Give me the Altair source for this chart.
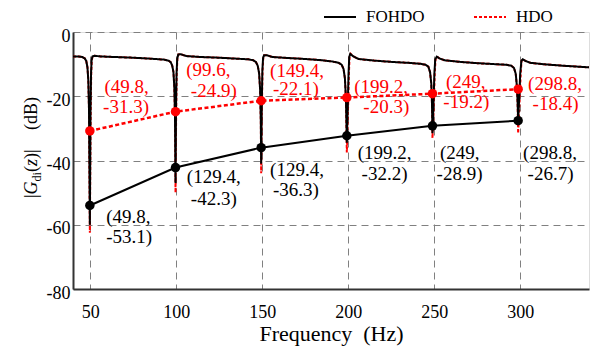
import altair as alt
import pandas as pd

FONT = "'Liberation Serif', 'Times New Roman', serif"

# ---------------- data ----------------
fohdo_f = [40, 43, 45.5, 46.8, 47.7, 48.4, 48.9, 49.3, 49.8, 50.2, 50.5, 50.8, 51.3, 52.5, 56,
           65, 75, 85, 93, 95.5, 96.8, 97.7, 98.4, 98.9, 99.3, 99.6, 99.9, 100.2, 100.6, 101.2, 102.5, 106,
           115, 125, 135, 142, 144.8, 146.3, 147.4, 148.2, 148.8, 149.2, 149.4, 149.7, 150.1, 150.5, 151.1, 152.5, 156,
           165, 175, 185, 191, 194.5, 196.2, 197.3, 198.1, 198.7, 199.2, 199.7, 200.2, 200.6, 201.2, 203, 206,
           215, 225, 235, 242, 245, 246.6, 247.6, 248.3, 248.7, 249.0, 249.5, 250.1, 250.6, 251.5, 253, 256,
           265, 275, 285, 292, 294.8, 296.4, 297.4, 298.1, 298.5, 298.8, 299.3, 300.0, 300.7, 301.5, 303, 306,
           315, 325, 340]
fohdo_db = [-7.6, -7.6, -7.8, -8.2, -9.0, -11.0, -15.0, -24.0, -60.0, -24.0, -13.0, -8.8, -7.6, -7.4, -7.6,
            -7.8, -8.0, -8.3, -8.6, -8.9, -9.4, -10.5, -12.5, -17.0, -26.0, -47.0, -24.0, -13.0, -8.3, -7.0, -6.9, -7.5,
            -7.8, -8.0, -8.3, -8.5, -8.8, -9.3, -10.5, -12.8, -18.0, -28.0, -41.0, -24.0, -12.0, -8.2, -7.2, -7.2, -7.8,
            -8.1, -8.4, -8.8, -9.2, -9.6, -10.2, -11.5, -14.5, -21.0, -34.5, -24.0, -13.0, -7.8, -6.8, -7.6, -8.4,
            -8.9, -9.3, -9.6, -9.9, -10.2, -10.8, -12.5, -16.0, -22.0, -31.5, -24.0, -13.0, -8.5, -7.7, -8.2, -8.8,
            -9.3, -9.7, -10.0, -10.2, -10.5, -11.2, -13.0, -17.0, -22.0, -27.7, -22.0, -13.0, -9.0, -8.5, -9.0, -9.6,
            -10.1, -10.5, -11.0]

hdo_f = [40, 43, 45.5, 46.8, 47.7, 48.4, 48.9, 49.3, 49.8, 50.3, 50.6, 50.9, 51.4, 52.5, 56,
         65, 75, 85, 93, 95.5, 96.8, 97.7, 98.4, 98.9, 99.3, 99.6, 100.0, 100.3, 100.7, 101.3, 102.5, 106,
         115, 125, 135, 142, 144.8, 146.3, 147.4, 148.2, 148.8, 149.2, 149.4, 149.8, 150.2, 150.6, 151.2, 152.5, 156,
         165, 175, 185, 191, 194.5, 196.2, 197.3, 198.1, 198.7, 199.2, 199.9, 200.4, 200.8, 201.4, 203, 206,
         215, 225, 235, 242, 245, 246.6, 247.6, 248.3, 248.7, 249.0, 249.7, 250.3, 250.8, 251.7, 253, 256,
         265, 275, 285, 292, 294.8, 296.4, 297.4, 298.1, 298.5, 298.8, 299.6, 300.3, 300.8, 301.6, 303, 306,
         315, 325, 340]
hdo_db = [-7.6, -7.6, -7.8, -8.2, -9.0, -11.0, -15.0, -24.0, -62.5, -24.0, -13.0, -8.8, -7.6, -7.4, -7.6,
          -7.8, -8.0, -8.3, -8.6, -8.9, -9.4, -10.5, -12.5, -17.0, -26.0, -50.0, -24.0, -13.0, -8.3, -7.0, -6.9, -7.5,
          -7.8, -8.0, -8.3, -8.5, -8.8, -9.3, -10.5, -12.8, -18.0, -28.0, -44.0, -24.0, -12.0, -8.2, -7.2, -7.2, -7.8,
          -8.1, -8.4, -8.8, -9.2, -9.6, -10.2, -11.5, -14.5, -21.0, -37.5, -24.0, -13.0, -7.8, -6.8, -7.6, -8.4,
          -8.9, -9.3, -9.6, -9.9, -10.2, -10.8, -12.5, -16.0, -22.0, -33.0, -24.0, -13.0, -8.5, -7.7, -8.2, -8.8,
          -9.3, -9.7, -10.0, -10.2, -10.5, -11.2, -13.0, -17.0, -22.0, -31.5, -22.0, -13.0, -9.0, -8.5, -9.0, -9.6,
          -10.1, -10.5, -11.0]

harm_f = [49.8, 99.6, 149.4, 199.2, 249, 298.8]
fohdo_pk = [-54.0, -42.2, -36.0, -32.3, -29.2, -27.6]
hdo_pk = [-30.8, -24.8, -21.4, -20.4, -19.2, -17.8]

red_l1 = ["(49.8,", "(99.6,", "(149.4,", "(199.2,", "(249,", "(298.8,"]
red_l2 = ["-31.3)", "-24.9)", "-22.1)", "-20.3)", "-19.2)", "-18.4)"]
blk_l1 = ["(49.8,", "(129.4,", "(129.4,", "(199.2,", "(249,", "(298.8,"]
blk_l2 = ["-53.1)", "-42.3)", "-36.3)", "-32.2)", "-28.9)", "-26.7)"]

# label anchor positions (left edge, baseline) in data units
red_l1_x = [58.3, 105.8, 154.6, 203.5, 256.8, 304.6]
red_l1_y = [-19.0, -13.7, -14.0, -19.1, -17.5, -18.1]
red_l2_x = [57.5, 108.5, 156.3, 208.8, 255.3, 307.2]
red_l2_y = [-25.1, -20.1, -19.6, -25.3, -23.8, -24.3]
blk_l1_x = [59.3, 106.2, 154.6, 205.5, 253.3, 301.7]
blk_l1_y = [-59.4, -47.0, -44.8, -39.6, -39.5, -39.5]
blk_l2_x = [59.3, 108.5, 156.3, 207.8, 251.4, 304.3]
blk_l2_y = [-65.8, -53.9, -51.1, -46.1, -46.1, -46.1]

x_ticks = [50, 100, 150, 200, 250, 300]
y_ticks = [0, -20, -40, -60, -80]
series = ["FOHDO", "HDO"]
colors = ["#000000", "#ff0000"]

# ---------------- tables ----------------
curve_fohdo = pd.DataFrame({"f": fohdo_f, "db": fohdo_db, "s": "FOHDO"})
curve_hdo = pd.DataFrame({"f": hdo_f, "db": hdo_db, "s": "HDO"})
pk_fohdo = pd.DataFrame({"f": harm_f, "db": fohdo_pk})
pk_hdo = pd.DataFrame({"f": harm_f, "db": hdo_pk})
lab_red = pd.DataFrame({"x": red_l1_x + red_l2_x, "y": red_l1_y + red_l2_y, "t": red_l1 + red_l2})
lab_blk = pd.DataFrame({"x": blk_l1_x + blk_l2_x, "y": blk_l1_y + blk_l2_y, "t": blk_l1 + blk_l2})

xs = alt.Scale(domain=[40, 340], nice=False, zero=False)
ys = alt.Scale(domain=[-80, 0], nice=False)

X = alt.X("f:Q", scale=xs, axis=alt.Axis(
    values=x_ticks, title="Frequency\u00a0\u00a0(Hz)", titleFont=FONT, titleFontSize=22,
    titleFontWeight="normal", titleColor="black", titleY=51, titleBaseline="alphabetic",
    labelFont=FONT, labelFontSize=18, labelColor="black", labelPadding=14,
    ticks=False, grid=True, gridDash=[7, 5], gridColor="#808080", gridWidth=1,
    domainColor="#333333", domainWidth=2))
Y = alt.Y("db:Q", scale=ys, axis=alt.Axis(
    values=y_ticks, title=None, labelExpr="datum.value + ''",
    labelFont=FONT, labelFontSize=18, labelColor="black", labelPadding=3, labelOffset=4,
    ticks=False, grid=True, gridDash=[7, 5], gridColor="#808080", gridWidth=1,
    domainColor="#333333", domainWidth=2))

leg = alt.Legend(orient="none", legendX=250, legendY=-32, direction="horizontal",
                 title=None, labelFont=FONT, labelFontSize=17, labelColor="black",
                 symbolType="stroke", symbolSize=1024, symbolStrokeWidth=2,
                 columnPadding=45, labelOffset=9)
color = alt.Color("s:N", scale=alt.Scale(domain=series, range=colors), legend=leg)
dash = alt.StrokeDash("s:N", scale=alt.Scale(domain=series, range=[[1, 0], [3, 2]]), legend=leg)

hdo_line = alt.Chart(curve_hdo).mark_line(strokeWidth=2).encode(x=X, y=Y, color=color, strokeDash=dash)
fohdo_line = alt.Chart(curve_fohdo).mark_line(strokeWidth=2).encode(x=X, y=Y, color=color, strokeDash=dash)

pk_b_line = alt.Chart(pk_fohdo).mark_line(color="black", strokeWidth=2).encode(x="f:Q", y="db:Q")
pk_r_line = alt.Chart(pk_hdo).mark_line(color="#ff0000", strokeWidth=2.5, strokeDash=[4, 2.5]).encode(x="f:Q", y="db:Q")
pk_b_pts = alt.Chart(pk_fohdo).mark_point(filled=True, color="black", size=90, opacity=1).encode(x="f:Q", y="db:Q")
pk_r_pts = alt.Chart(pk_hdo).mark_point(filled=True, color="#ff0000", size=90, opacity=1).encode(x="f:Q", y="db:Q")

txt_r = alt.Chart(lab_red).mark_text(font=FONT, fontSize=19, color="#ff0000", align="left",
                                      baseline="alphabetic").encode(x=alt.X("x:Q", scale=xs), y=alt.Y("y:Q", scale=ys), text="t:N")
txt_b = alt.Chart(lab_blk).mark_text(font=FONT, fontSize=19, color="black", align="left",
                                      baseline="alphabetic").encode(x=alt.X("x:Q", scale=xs), y=alt.Y("y:Q", scale=ys), text="t:N")

# y axis title pieces: |G_di(z)|   (dB)
def piece(t, xpx, ypx, size=18, style="normal"):
    return alt.Chart(pd.DataFrame({"t": [t]})).mark_text(
        font=FONT, fontSize=size, fontStyle=style, color="black", align="left",
        baseline="alphabetic", angle=270).encode(x=alt.value(xpx), y=alt.value(ypx), text="t:N")

ytitle = [
    piece("|", -36, 166),
    piece("G", -36, 162.4, style="italic"),
    piece("di", -32, 149.4, size=12),
    piece("(", -36, 140),
    piece("z", -36, 134, style="italic"),
    piece(")", -36, 127),
    piece("|", -36, 121),
    piece("(dB)", -36, 98),
]

chart = alt.layer(hdo_line, fohdo_line, pk_b_line, pk_r_line, pk_b_pts, pk_r_pts, txt_r, txt_b, *ytitle).properties(
    width=516, height=257,
    autosize=alt.AutoSizeParams(type="none"),
    padding={"left": 65, "top": 24, "right": 3, "bottom": 58},
).configure_view(stroke="#333333", strokeWidth=2).configure(background="white")

chart.save("out.html", embed_options={"renderer": "svg", "actions": False})
